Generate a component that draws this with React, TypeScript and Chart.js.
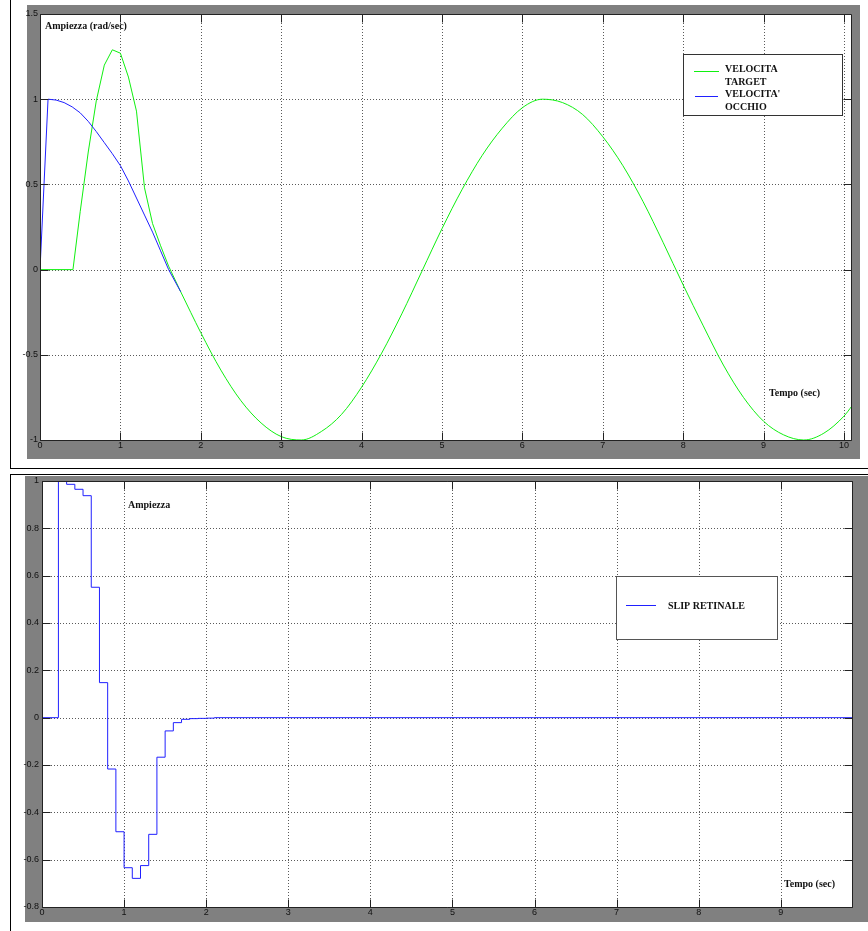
import React, { useEffect, useRef } from 'react';
import { Chart, registerables } from 'chart.js';

Chart.register(...registerables);

// ---------- DATA ----------
const TOP_X_TICKS = [0, 1, 2, 3, 4, 5, 6, 7, 8, 9, 10];
const TOP_Y_TICKS = [-1, -0.5, 0, 0.5, 1, 1.5];
const BOTTOM_X_TICKS = [0, 1, 2, 3, 4, 5, 6, 7, 8, 9];
const BOTTOM_Y_TICKS = [-0.8, -0.6, -0.4, -0.2, 0, 0.2, 0.4, 0.6, 0.8, 1];

// VELOCITA TARGET – onset transient
const TARGET_ONSET_T = [0, 0.41, 0.5, 0.6, 0.7, 0.8, 0.9, 1.0, 1.1, 1.2, 1.3, 1.4, 1.5, 1.6, 1.75];
const TARGET_ONSET_V = [0, 0, 0.34, 0.69, 0.99, 1.2, 1.29, 1.27, 1.13, 0.93, 0.48, 0.27, 0.14, 0.02, -0.13];

// VELOCITA TARGET – sinusoidal part
const TARGET_T = [1.75, 2, 2.25, 2.5, 2.75, 3, 3.25, 3.5, 3.75, 4, 4.25, 4.5, 4.75, 5, 5.25, 5.5, 5.75, 6, 6.25, 6.5, 6.75, 7, 7.25, 7.5, 7.75, 8, 8.25, 8.5, 8.75, 9, 9.25, 9.5, 9.75, 10, 10.1];
const TARGET_V = [-0.13, -0.37, -0.59, -0.77, -0.9, -0.98, -1.0, -0.95, -0.85, -0.69, -0.49, -0.26, -0.01, 0.24, 0.47, 0.67, 0.83, 0.95, 1.0, 0.98, 0.91, 0.78, 0.61, 0.4, 0.16, -0.09, -0.33, -0.56, -0.75, -0.89, -0.97, -1.0, -0.96, -0.86, -0.8];

// VELOCITA' OCCHIO
const EYE_T = [0, 0.1, 0.2, 0.3, 0.4, 0.5, 0.6, 0.7, 0.8, 0.9, 1.0, 1.1, 1.2, 1.3, 1.4, 1.5, 1.6, 1.75];
const EYE_V = [0, 1.0, 0.995, 0.98, 0.955, 0.92, 0.87, 0.81, 0.745, 0.68, 0.61, 0.52, 0.42, 0.32, 0.22, 0.11, 0.0, -0.13];

// SLIP RETINALE (zero-order hold)
const SLIP_T = [0, 0.2, 0.3, 0.4, 0.5, 0.6, 0.7, 0.8, 0.9, 1.0, 1.1, 1.2, 1.3, 1.4, 1.5, 1.6, 1.7, 1.8, 1.9, 2.0, 2.1, 9.88];
const SLIP_V = [0, 1.0, 0.986, 0.965, 0.938, 0.551, 0.148, -0.217, -0.482, -0.634, -0.679, -0.625, -0.493, -0.167, -0.056, -0.021, -0.007, -0.004, -0.003, -0.002, 0, 0];

// ---------- STYLE ----------
const SANS = '"Liberation Sans", Arial, sans-serif';
const SERIF = '"Liberation Serif", "Times New Roman", serif';
const GREEN = '#10f010';
const BLUE = '#2020ff';
const GRAY = '#808080';

const pts = (t: number[], v: number[]) => t.map((x, i) => ({ x, y: v[i] }));

function drawGrid(chart: any, xTicks: number[], yTicks: number[]) {
  const { ctx, chartArea: a, scales } = chart;
  ctx.save();
  ctx.strokeStyle = '#5a5a5a';
  ctx.lineWidth = 1;
  ctx.setLineDash([1, 2]);
  xTicks.forEach((v) => {
    const x = Math.round(scales.x.getPixelForValue(v)) + 0.5;
    ctx.beginPath();
    ctx.moveTo(x, a.top);
    ctx.lineTo(x, a.bottom);
    ctx.stroke();
  });
  yTicks.forEach((v) => {
    const y = Math.round(scales.y.getPixelForValue(v)) + 0.5;
    ctx.beginPath();
    ctx.moveTo(a.left, y);
    ctx.lineTo(a.right, y);
    ctx.stroke();
  });
  ctx.restore();
}

function drawBox(chart: any, xTicks: number[], yTicks: number[]) {
  const { ctx, chartArea: a, scales } = chart;
  const L = Math.round(a.left) + 0.5;
  const R = Math.round(a.right) - 0.5;
  const T = Math.round(a.top) + 0.5;
  const B = Math.round(a.bottom) + 0.5;
  const len = 8;
  ctx.save();
  ctx.strokeStyle = '#222';
  ctx.lineWidth = 1;
  ctx.setLineDash([]);
  ctx.beginPath();
  ctx.moveTo(L, T);
  ctx.lineTo(R, T);
  ctx.lineTo(R, B);
  ctx.lineTo(L, B);
  ctx.closePath();
  ctx.stroke();
  ctx.beginPath();
  xTicks.forEach((v) => {
    const x = Math.round(scales.x.getPixelForValue(v)) + 0.5;
    ctx.moveTo(x, B);
    ctx.lineTo(x, B - len);
    ctx.moveTo(x, T);
    ctx.lineTo(x, T + len);
  });
  yTicks.forEach((v) => {
    const y = Math.round(scales.y.getPixelForValue(v)) + 0.5;
    ctx.moveTo(L, y);
    ctx.lineTo(L + len, y);
    ctx.moveTo(R, y);
    ctx.lineTo(R - len, y);
  });
  ctx.stroke();
  ctx.restore();
}

function label(ctx: CanvasRenderingContext2D, text: string, x: number, y: number) {
  ctx.font = `bold 10px ${SERIF}`;
  ctx.fillStyle = '#111';
  ctx.textAlign = 'left';
  ctx.textBaseline = 'alphabetic';
  ctx.fillText(text, x, y);
}

function legendLine(ctx: CanvasRenderingContext2D, color: string, x1: number, x2: number, y: number) {
  ctx.strokeStyle = color;
  ctx.lineWidth = 1;
  ctx.beginPath();
  ctx.moveTo(x1, y);
  ctx.lineTo(x2, y);
  ctx.stroke();
}

const topPlugin = {
  id: 'topDecor',
  beforeDraw(chart: any) {
    const { ctx, chartArea: a } = chart;
    ctx.save();
    ctx.fillStyle = '#fff';
    ctx.fillRect(0, 0, chart.width, chart.height);
    ctx.fillStyle = '#000';
    ctx.fillRect(10, 0, 1, 469);
    ctx.fillRect(10, 468, 858, 1);
    ctx.fillStyle = GRAY;
    ctx.fillRect(27, 5, 833, 454);
    ctx.fillStyle = '#fff';
    ctx.fillRect(a.left, a.top, a.right - a.left, a.bottom - a.top);
    ctx.restore();
  },
  beforeDatasetsDraw(chart: any) {
    drawGrid(chart, TOP_X_TICKS, TOP_Y_TICKS);
  },
  afterDatasetsDraw(chart: any) {
    drawBox(chart, TOP_X_TICKS, TOP_Y_TICKS);
  },
  afterDraw(chart: any) {
    const ctx = chart.ctx as CanvasRenderingContext2D;
    ctx.save();
    label(ctx, 'Ampiezza (rad/sec)', 45, 29);
    label(ctx, 'Tempo (sec)', 769, 396);
    // legend
    ctx.fillStyle = '#fff';
    ctx.fillRect(683, 54, 160, 62);
    ctx.strokeStyle = '#333';
    ctx.lineWidth = 1;
    ctx.strokeRect(683.5, 54.5, 159, 61);
    legendLine(ctx, GREEN, 694, 719, 71.5);
    legendLine(ctx, BLUE, 695, 718, 96.5);
    label(ctx, 'VELOCITA', 725, 72);
    label(ctx, 'TARGET', 725, 85);
    label(ctx, "VELOCITA'", 725, 97);
    label(ctx, 'OCCHIO', 725, 110);
    ctx.restore();
  },
};

const bottomPlugin = {
  id: 'bottomDecor',
  beforeDraw(chart: any) {
    const { ctx, chartArea: a } = chart;
    ctx.save();
    ctx.fillStyle = '#fff';
    ctx.fillRect(0, 0, chart.width, chart.height);
    ctx.fillStyle = '#000';
    ctx.fillRect(10, 4, 858, 1);
    ctx.fillRect(10, 4, 1, chart.height - 4);
    ctx.fillStyle = GRAY;
    ctx.fillRect(25, 6, 843, 446);
    ctx.fillStyle = '#fff';
    ctx.fillRect(a.left, a.top, a.right - a.left, a.bottom - a.top);
    ctx.restore();
  },
  beforeDatasetsDraw(chart: any) {
    drawGrid(chart, BOTTOM_X_TICKS, BOTTOM_Y_TICKS);
  },
  afterDatasetsDraw(chart: any) {
    drawBox(chart, BOTTOM_X_TICKS, BOTTOM_Y_TICKS);
  },
  afterDraw(chart: any) {
    const ctx = chart.ctx as CanvasRenderingContext2D;
    ctx.save();
    label(ctx, 'Ampiezza', 128, 38);
    label(ctx, 'Tempo (sec)', 784, 417);
    ctx.fillStyle = '#fff';
    ctx.fillRect(616, 106, 162, 64);
    ctx.strokeStyle = '#555';
    ctx.lineWidth = 1;
    ctx.strokeRect(616.5, 106.5, 161, 63);
    legendLine(ctx, BLUE, 626, 656, 135.5);
    label(ctx, 'SLIP RETINALE', 668, 139);
    ctx.restore();
  },
};

function axis(min: number, max: number, ticks: number[], isX: boolean, size: number, pad: number) {
  return {
    type: 'linear',
    min,
    max,
    afterBuildTicks: (s: any) => {
      s.ticks = ticks.map((value) => ({ value }));
    },
    afterFit: (s: any) => {
      if (isX) s.height = size;
      else s.width = size;
    },
    grid: { display: false, drawTicks: false },
    border: { display: false },
    ticks: {
      padding: pad,
      color: '#111',
      font: { family: SANS, size: 9 },
      maxRotation: 0,
      autoSkip: false,
      callback: (v: any) => String(Math.round(Number(v) * 100) / 100),
    },
  };
}

function topConfig(): any {
  return {
    type: 'line',
    data: {
      datasets: [
        { label: "VELOCITA' OCCHIO", data: pts(EYE_T, EYE_V), borderColor: BLUE, borderWidth: 1, pointRadius: 0, tension: 0 },
        { label: 'VELOCITA TARGET', data: pts(TARGET_ONSET_T, TARGET_ONSET_V), borderColor: GREEN, borderWidth: 1, pointRadius: 0, tension: 0 },
        { label: 'VELOCITA TARGET', data: pts(TARGET_T, TARGET_V), borderColor: GREEN, borderWidth: 1, pointRadius: 0, cubicInterpolationMode: 'monotone' },
      ],
    },
    options: {
      responsive: false,
      animation: false,
      devicePixelRatio: 1,
      events: [],
      layout: { padding: { left: 0, right: 16, top: 14, bottom: 14 } },
      plugins: { legend: { display: false }, tooltip: { enabled: false } },
      scales: {
        x: axis(0, 10.1, TOP_X_TICKS, true, 16, 0),
        y: axis(-1, 1.5, TOP_Y_TICKS, false, 40, 2),
      },
    },
    plugins: [topPlugin],
  };
}

function bottomConfig(): any {
  return {
    type: 'line',
    data: {
      datasets: [
        { label: 'SLIP RETINALE', data: pts(SLIP_T, SLIP_V), borderColor: BLUE, borderWidth: 1, pointRadius: 0, stepped: true },
      ],
    },
    options: {
      responsive: false,
      animation: false,
      devicePixelRatio: 1,
      events: [],
      layout: { padding: { left: 0, right: 15, top: 11, bottom: 8 } },
      plugins: { legend: { display: false }, tooltip: { enabled: false } },
      scales: {
        x: axis(0, 9.88, BOTTOM_X_TICKS, true, 16, 0),
        y: axis(-0.8, 1, BOTTOM_Y_TICKS, false, 42, 3),
      },
    },
    plugins: [bottomPlugin],
  };
}

function ChartCanvas({ make, top, width, height }: { make: () => any; top: number; width: number; height: number }) {
  const ref = useRef<HTMLCanvasElement | null>(null);
  useEffect(() => {
    if (!ref.current) return;
    const chart = new Chart(ref.current, make());
    return () => chart.destroy();
  }, []);
  return (
    <canvas
      ref={ref}
      width={width}
      height={height}
      style={{ position: 'absolute', left: 0, top, width, height, display: 'block' }}
    />
  );
}

export default function App() {
  return (
    <div style={{ position: 'absolute', left: 0, top: 0, width: 868, height: 931, background: '#fff', overflow: 'hidden' }}>
      <ChartCanvas make={topConfig} top={0} width={868} height={470} />
      <ChartCanvas make={bottomConfig} top={470} width={868} height={461} />
    </div>
  );
}
